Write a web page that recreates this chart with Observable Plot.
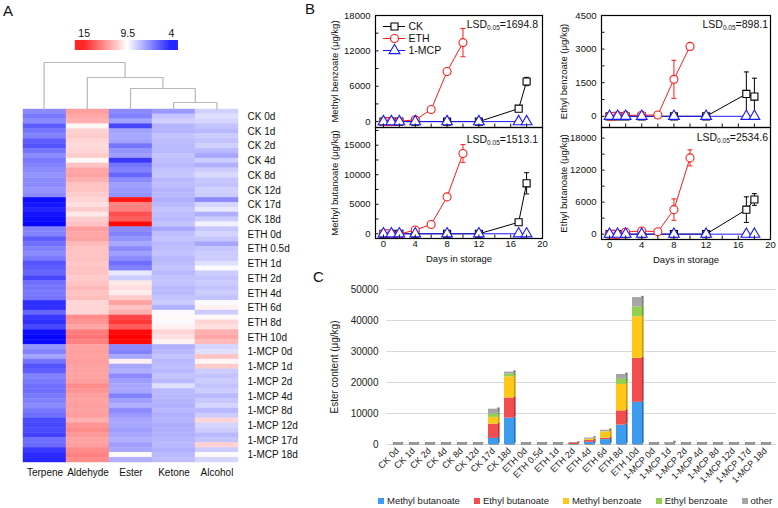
<!DOCTYPE html>
<html><head><meta charset="utf-8">
<script src="https://cdn.jsdelivr.net/npm/d3@7"></script>
<script src="https://cdn.jsdelivr.net/npm/@observablehq/plot@0.6"></script>
<style>
body{margin:0;background:#fff;font-family:"Liberation Sans",Arial,Helvetica,sans-serif;}
#root{position:relative;width:778px;height:508px;overflow:hidden;background:#fff;}
.letter{position:absolute;font-size:15px;color:#111;}
.lsd{position:absolute;font-size:10.5px;white-space:nowrap;transform:translateX(-100%);color:#111;}
.lsd sub{font-size:6.5px;vertical-align:-2px;line-height:0;}
.cleg-swatches{width:400px !important;flex-wrap:nowrap !important;white-space:nowrap;margin:0 !important;min-height:0 !important;}
.cleg-swatch{margin-right:14px !important;}
.cleg-swatch svg{margin-right:3px !important;}
</style></head><body><div id="root"></div><script>
const FONT = '"Liberation Sans", Arial, Helvetica, sans-serif';

// ---------- Panel A data ----------
const heatColumns = ["Terpene","Aldehyde","Ester","Ketone","Alcohol"];
const sampleLabels = ["CK 0d","CK 1d","CK 2d","CK 4d","CK 8d","CK 12d","CK 17d","CK 18d",
  "ETH 0d","ETH 0.5d","ETH 1d","ETH 2d","ETH 4d","ETH 6d","ETH 8d","ETH 10d",
  "1-MCP 0d","1-MCP 1d","1-MCP 2d","1-MCP 4d","1-MCP 8d","1-MCP 12d","1-MCP 17d","1-MCP 18d"];
const terpene = [7.0,6.6,7.0, 6.0,6.5,6.8, 6.0,5.8,6.5, 7.0,6.6,6.8, 7.0,7.2,7.0, 7.0,7.2,7.0,
  4.3,4.5,4.8, 4.4,4.3,4.1, 6.8,6.8,6.0, 6.4,6.8,7.0, 6.6,5.8,6.0, 6.2,5.5,6.4,
  6.5,6.6,6.5, 5.0,5.0,6.2, 5.2,5.0,5.5, 4.3,4.1,4.2, 7.2,6.8,7.5, 6.5,5.8,6.0,
  6.8,6.6,6.4, 6.4,6.6,6.8, 7.0,6.6,6.4, 5.6,5.5,5.6, 5.4,6.4,6.3, 5.2,4.9,4.8];
const aldehyde = [11.6,11.4,11.2, 9.7,10.5,10.6, 10.4,10.3,10.4, 10.6,9.6,10.8, 11.4,11.5,11.2, 10.8,10.8,10.6,
  10.4,10.2,10.6, 10.0,10.6,10.8, 11.6,11.4,11.5, 11.0,10.8,10.8, 10.8,10.7,10.8, 10.8,10.6,10.8,
  11.0,10.8,10.9, 10.4,10.4,10.4, 12.0,11.8,11.4, 12.3,12.5,12.2, 11.5,11.6,11.5, 11.6,11.5,11.5,
  11.5,11.6,12.0, 11.8,11.6,11.5, 11.6,11.5,11.6, 11.2,11.8,12.0, 11.7,11.5,11.6, 12.0,12.2,12.0];
const ester = [7.0,6.8,7.5, 5.5,7.5,7.6, 7.5,6.5,7.2, 7.4,5.2,6.5, 6.8,6.2,7.0, 7.4,7.3,7.2,
  14.5,12.2,12.3, 13.3,13.0,14.8, 7.0,6.8,7.2, 7.6,7.0,7.4, 7.0,6.4,6.8, 9.0,8.4,10.0,
  10.2,9.9,10.6, 11.5,10.8,11.2, 13.5,13.8,13.0, 14.8,15.0,14.8, 7.0,6.8,7.6, 9.8,7.6,7.8,
  7.0,7.4,7.6, 7.6,6.8,7.4, 7.8,7.0,7.3, 7.6,7.6,7.4, 7.6,7.8,7.4, 7.6,9.6,7.8];
const ketone = [7.3,8.2,8.5, 7.9,7.9,8.2, 8.1,8.0,8.0, 8.2,8.1,8.0, 8.2,8.3,8.0, 8.1,7.9,8.0,
  7.8,8.0,8.2, 8.1,8.0,8.2, 7.6,8.1,8.2, 8.0,8.1,8.2, 8.0,8.1,8.2, 8.0,8.2,8.2,
  8.0,8.0,8.2, 8.4,7.8,9.4, 9.6,9.4,9.8, 10.4,10.2,9.8, 7.8,8.0,8.2, 8.0,8.1,8.0,
  8.2,8.0,8.8, 8.0,8.0,7.9, 7.8,8.0,7.8, 7.9,7.7,7.8, 7.8,7.9,8.0, 7.8,8.0,8.1];
const alcohol = [8.5,8.8,8.6, 8.2,8.0,8.4, 8.2,8.5,8.0, 7.6,8.4,7.8, 8.4,8.7,8.3, 8.2,8.5,8.4,
  7.0,8.6,9.0, 7.8,8.4,9.2, 8.3,8.6,8.3, 7.6,8.3,8.4, 8.4,8.8,9.4, 8.4,8.2,8.4,
  8.2,8.4,8.2, 9.4,9.8,8.4, 9.6,10.4,10.2, 11.2,11.4,11.0, 8.6,8.8,10.8, 9.7,10.6,8.4,
  8.2,8.4,8.2, 8.4,8.0,8.3, 8.6,8.0,8.4, 10.4,8.6,8.4, 8.0,8.2,10.5, 8.4,9.6,8.6];
const heatLegendTicks = [15, 9.5, 4];
// dendrogram: nodes 0-4 are leaves (heatColumns order), merges create nodes 5..8
const dendroA = [3, 2, 1, 0];
const dendroB = [4, 5, 6, 7];
const dendroHeight = [0.7, 2.1, 3.2, 4.7];

// ---------- Panel B data ----------
const seriesNames = ["CK","ETH","1-MCP"];
const seriesColors = ["#000000","#ff1a1a","#1a1aff"];
const ckDays = [0,1,2,4,8,12,17,18];
const ethDays = [0,0.5,1,2,4,6,8,10];
const mcpDays = [0,1,2,4,8,12,17,18];
const dayTicks = [0,4,8,12,16,20];
const dayMinor = [0,2,4,6,8,10,12,14,16,18,20];
const mbzCK = [0,0,0,0,0,0,2200,6800],      mbzCKerr = [0,0,0,0,0,0,250,700];
const mbzETH = [0,0,0,50,300,2050,8500,13400], mbzETHerr = [0,0,0,100,150,300,350,2400];
const mbzMCP = [0,0,0,0,0,0,0,0],           mbzMCPerr = [0,0,0,0,0,0,0,0];
const ebzCK = [0,0,0,0,0,0,1000,880],       ebzCKerr = [0,0,0,0,0,0,980,820];
const ebzETH = [0,0,30,40,50,60,1650,3120], ebzETHerr = [0,0,80,60,50,70,850,150];
const ebzMCP = [0,0,0,0,0,0,0,0],           ebzMCPerr = [0,0,0,0,0,0,0,0];
const mbuCK = [0,0,0,0,0,0,1950,8550],      mbuCKerr = [0,0,0,0,0,0,200,1800];
const mbuETH = [0,0,-50,-80,650,1570,6250,13600], mbuETHerr = [0,0,150,550,250,300,300,1500];
const mbuMCP = [0,0,0,0,0,0,0,0],           mbuMCPerr = [0,0,0,0,0,0,0,0];
const ebuCK = [0,0,0,0,0,0,4600,6500],      ebuCKerr = [0,0,0,0,0,0,2400,1100];
const ebuETH = [0,0,-100,400,600,450,4600,14300], ebuETHerr = [0,0,400,300,350,200,2000,1500];
const ebuMCP = [0,0,0,0,0,0,0,0],           ebuMCPerr = [0,0,0,0,0,0,0,0];
const lsdValues = ["1694.8","898.1","1513.1","2534.6"];

// ---------- Panel C data ----------
const cCats = ["CK 0d","CK 1d","CK 2d","CK 4d","CK 8d","CK 12d","CK 17d","CK 18d",
  "ETH 0d","ETH 0.5d","ETH 1d","ETH 2d","ETH 4d","ETH 6d","ETH 8d","ETH 10d",
  "1-MCP 0d","1-MCP 1d","1-MCP 2d","1-MCP 4d","1-MCP 8d","1-MCP 12d","1-MCP 17d","1-MCP 18d"];
const cSeries = ["Methyl butanoate","Ethyl butanoate","Methyl benzoate","Ethyl benzoate","other"];
const cColors = ["#3d9cf0","#f24e52","#ffc819","#92d050","#a6a6a6"];
const cSide   = ["#2470b8","#b83434","#c8990f","#699a36","#7a7a7a"];
const methylButanoate = [40,40,40,40,40,40,1950,8500, 30,30,30,40,700,1570,6250,13600, 30,80,40,40,40,40,40,40];
const ethylButanoate  = [30,30,30,30,30,30,4600,6500, 30,30,30,350,600,450,4600,14200, 30,60,30,30,30,30,30,30];
const methylBenzoate  = [10,10,10,10,10,10,2200,6800, 10,10,10,10,340,2050,8500,13400, 10,10,10,10,10,10,10,10];
const ethylBenzoate   = [10,10,10,10,10,10,1000,880, 10,10,30,40,50,60,1650,3120, 10,10,10,10,10,10,10,10];
const otherEsters     = [60,60,60,60,60,60,1650,680, 60,60,60,60,420,470,1600,3080, 60,500,60,60,60,60,60,60];
const cTicks = [0,10000,20000,30000,40000,50000];

// ---------- helpers ----------
const root = document.getElementById("root");
function place(el, left, top) {
  el.style.position = "absolute"; el.style.left = left + "px"; el.style.top = top + "px";
  root.appendChild(el); return el;
}
function letter(t, left, top) {
  const d = document.createElement("div"); d.className = "letter"; d.textContent = t;
  d.style.left = left + "px"; d.style.top = top + "px"; root.appendChild(d);
}
const baseStyle = {fontFamily: FONT, background: "transparent", overflow: "visible", color: "#111"};
const heatScale = {type: "linear", domain: [4, 9.5, 15], range: ["#0000ff", "#ffffff", "#ff0000"], clamp: true};

// ---------- Panel A ----------
letter("A", 3, 2);
const heatCols = [terpene, aldehyde, ester, ketone, alcohol];
const rowIndex = d3.range(terpene.length);
const heatData = [];
heatColumns.forEach((c, j) => heatCols[j].forEach((v, r) => heatData.push({col: c, row: r, v})));
const labelRows = sampleLabels.map((_, g) => g * 3 + 1);

place(Plot.plot({
  width: 300, height: 508, marginLeft: 22, marginRight: 62, marginTop: 109, marginBottom: 46,
  style: {...baseStyle, fontSize: "10px"},
  x: {domain: heatColumns, padding: 0},
  y: {domain: rowIndex, padding: 0},
  color: heatScale,
  marks: [
    Plot.cell(heatData, {x: "col", y: "row", fill: "v", stroke: "v", strokeWidth: 0.4, inset: 0}),
    Plot.axisY({anchor: "right", ticks: labelRows, tickFormat: i => sampleLabels[(i - 1) / 3], tickSize: 0, tickPadding: 9, label: null}),
    Plot.axisX({anchor: "bottom", tickSize: 0, tickPadding: 6, label: null})
  ]
}), 0, 0);

// dendrogram
const nodePos = heatColumns.map((_, i) => i + 0.5);
const nodeH = heatColumns.map(() => 0);
const dendroLines = [];
dendroA.forEach((a, m) => {
  const b = dendroB[m], h = dendroHeight[m];
  dendroLines.push({m, x: nodePos[a], y: nodeH[a]}, {m, x: nodePos[a], y: h}, {m, x: nodePos[b], y: h}, {m, x: nodePos[b], y: nodeH[b]});
  nodePos.push((nodePos[a] + nodePos[b]) / 2); nodeH.push(h);
});
place(Plot.plot({
  width: 300, height: 54, marginLeft: 22, marginRight: 62, marginTop: 0, marginBottom: 0,
  style: baseStyle,
  x: {domain: [0, 5], axis: null}, y: {domain: [0, 5.4], axis: null},
  marks: [Plot.line(dendroLines, {x: "x", y: "y", z: "m", stroke: "#b8b8b8", strokeWidth: 1.2})]
}), 0, 55);

// heat legend
const gradStops = d3.range(3.1, 16.1, 0.05);
place(Plot.plot({
  width: 300, height: 30, marginLeft: 75, marginRight: 122, marginTop: 18, marginBottom: 2,
  style: {...baseStyle, fontSize: "10.5px"},
  x: {domain: [16.1, 3.1]}, y: {domain: [0, 1], axis: null}, color: heatScale,
  marks: [
    Plot.rect(gradStops, {x1: d => d, x2: d => d + 0.07, y1: 0, y2: 1, fill: d => d}),
    Plot.axisX({anchor: "top", ticks: heatLegendTicks, tickSize: 0, tickPadding: 4, tickFormat: d => String(d), label: null})
  ]
}), 0, 22);

// ---------- Panel B ----------
letter("B", 305, 0);
const capSymbol = {draw(ctx, size) { const r = Math.sqrt(size / Math.PI); ctx.moveTo(-r, 0); ctx.lineTo(r, 0); }};
function linePanel(cfg) {
  const rows = [];
  const add = (s, days, v, e) => days.forEach((d, i) => rows.push({series: s, day: d, value: v[i], err: e[i]}));
  add("CK", ckDays, cfg.ck, cfg.ckErr);
  add("ETH", ethDays, cfg.eth, cfg.ethErr);
  add("1-MCP", mcpDays, cfg.mcp, cfg.mcpErr);
  const errRows = rows.filter(r => r.err > 0);
  return Plot.plot({
    width: cfg.width, height: cfg.height, marginLeft: cfg.ml, marginRight: 3, marginTop: cfg.mt, marginBottom: cfg.mb,
    style: {...baseStyle, fontSize: "9.5px"},
    x: {domain: [-1, 20]},
    y: {domain: cfg.yDomain},
    color: {domain: seriesNames, range: seriesColors},
    symbol: {domain: seriesNames, range: ["square", "circle", "triangle"]},
    marks: [
      Plot.line(rows, {x: "day", y: "value", z: "series", stroke: "series", strokeWidth: 1}),
      Plot.ruleX(errRows, {x: "day", y1: d => d.value - d.err, y2: d => d.value + d.err, stroke: "series", strokeWidth: 1}),
      Plot.dot(errRows, {x: "day", y: d => d.value + d.err, symbol: capSymbol, r: 2.5, stroke: "series", strokeWidth: 1}),
      Plot.dot(errRows, {x: "day", y: d => d.value - d.err, symbol: capSymbol, r: 2.5, stroke: "series", strokeWidth: 1}),
      Plot.dot(rows, {x: "day", y: "value", symbol: "series", stroke: "series", fill: "white", r: 4, strokeWidth: 1.1}),
      Plot.frame({stroke: "#000", strokeWidth: 1.2}),
      Plot.axisY({ticks: cfg.yTicks, tickSize: 0, tickPadding: 5, tickFormat: d => String(d), label: cfg.label, labelAnchor: "center", labelOffset: cfg.lo, labelArrow: "none"}),
      Plot.axisY({ticks: cfg.yMinor, tickSize: 3.5, dx: 3.5, tickFormat: () => "", label: null}),
      Plot.axisX({ticks: dayTicks, tickSize: 0, tickPadding: 2, tickFormat: cfg.showX ? (d => String(d)) : (() => ""),
        label: cfg.showX ? "Days in storage" : null, labelAnchor: "center", labelOffset: 23, labelArrow: "none"}),
      Plot.axisX({ticks: dayMinor, tickSize: 3.5, dy: -3.5, tickFormat: () => "", label: null})
    ]
  });
}
place(linePanel({width: 245, height: 130, ml: 75, mt: 15, mb: 3, yDomain: [-1000, 18000],
  yTicks: [0, 6000, 12000, 18000], yMinor: [0, 3000, 6000, 9000, 12000, 15000, 18000],
  label: "Methyl benzoate (μg/kg)", lo: 44, showX: false,
  ck: mbzCK, ckErr: mbzCKerr, eth: mbzETH, ethErr: mbzETHerr, mcp: mbzMCP, mcpErr: mbzMCPerr}), 300, 0);
place(linePanel({width: 243, height: 130, ml: 71, mt: 15, mb: 3, yDomain: [-500, 4500],
  yTicks: [0, 1500, 3000, 4500], yMinor: [0, 750, 1500, 2250, 3000, 3750, 4500],
  label: "Ethyl benzoate (μg/kg)", lo: 41, showX: false,
  ck: ebzCK, ckErr: ebzCKerr, eth: ebzETH, ethErr: ebzETHerr, mcp: ebzMCP, mcpErr: ebzMCPerr}), 530, 0);
place(linePanel({width: 245, height: 150, ml: 75, mt: 7, mb: 32, yDomain: [-800, 18000],
  yTicks: [0, 5000, 10000, 15000], yMinor: [0, 2500, 5000, 7500, 10000, 12500, 15000, 17500],
  label: "Methyl butanoate (μg/kg)", lo: 44, showX: true,
  ck: mbuCK, ckErr: mbuCKerr, eth: mbuETH, ethErr: mbuETHerr, mcp: mbuMCP, mcpErr: mbuMCPerr}), 300, 120);
place(linePanel({width: 243, height: 150, ml: 71, mt: 7, mb: 31, yDomain: [-1000, 20000],
  yTicks: [0, 6000, 12000, 18000], yMinor: [0, 3000, 6000, 9000, 12000, 15000, 18000],
  label: "Ethyl butanoate (μg/kg)", lo: 41, showX: true,
  ck: ebuCK, ckErr: ebuCKerr, eth: ebuETH, ethErr: ebuETHerr, mcp: ebuMCP, mcpErr: ebuMCPerr}), 530, 120);

// B legend
place(Plot.plot({
  width: 70, height: 40, marginLeft: 0, marginRight: 0, marginTop: 0, marginBottom: 0,
  style: {...baseStyle, fontSize: "10.5px"},
  x: {domain: [0, 70], axis: null},
  y: {type: "point", domain: seriesNames, range: [6, 30.5], padding: 0, axis: null},
  color: {domain: seriesNames, range: seriesColors},
  symbol: {domain: seriesNames, range: ["square", "circle", "triangle"]},
  marks: [
    Plot.ruleY(seriesNames, {y: d => d, x1: 0, x2: 22, stroke: d => d, strokeWidth: 1}),
    Plot.dot(seriesNames, {x: 11, y: d => d, symbol: d => d, stroke: d => d, fill: "white", r: 4, strokeWidth: 1.1}),
    Plot.text(seriesNames, {x: 25, y: d => d, text: d => d, textAnchor: "start", fill: "#111"})
  ]
}), 383, 20);

// LSD annotations
[[538, 18], [768, 18], [538, 133], [768, 131]].forEach(([x, y], i) => {
  const d = document.createElement("div"); d.className = "lsd";
  d.innerHTML = "LSD<sub>0.05</sub>=" + lsdValues[i];
  d.style.left = x + "px"; d.style.top = y + "px"; root.appendChild(d);
});

// ---------- Panel C ----------
letter("C", 313, 268);
const cValues = [methylButanoate, ethylButanoate, methylBenzoate, ethylBenzoate, otherEsters];
const cTidy = [];
const cum = cCats.map(() => 0);
cSeries.forEach((s, k) => cValues[k].forEach((v, i) => {
  cTidy.push({cat: cCats[i], series: s, k, y1: cum[i], y2: cum[i] + v}); cum[i] += v;
}));
const sideMarks = cSeries.map((s, k) => Plot.barY(cTidy.filter(d => d.k === k),
  {x: "cat", y1: "y1", y2: "y2", fill: cSide[k], insetLeft: 9.2, insetRight: -1.6, dy: -1.2}));
place(Plot.plot({
  width: 478, height: 238, marginLeft: 86, marginRight: 2, marginTop: 19, marginBottom: 64,
  style: {...baseStyle, fontSize: "9.5px", color: "#222"},
  x: {domain: cCats, padding: 0.35},
  y: {domain: [0, 50000]},
  color: {domain: cSeries, range: cColors},
  marks: [
    Plot.ruleY(cTicks, {y: d => d, stroke: "#d9d9d9", strokeWidth: 1}),
    Plot.tickY(cCats, {x: d => d, y: 0, stroke: "#9a9a9a", strokeWidth: 3, dx: 1, dy: -1}),
    ...sideMarks,
    Plot.barY(cTidy, {x: "cat", y1: "y1", y2: "y2", fill: "series"}),
    Plot.axisY({ticks: cTicks, tickSize: 0, tickPadding: 8, tickFormat: d => String(d), label: "Ester content (μg/kg)", labelAnchor: "center", labelOffset: 56, labelArrow: "none", fontSize: 10}),
    Plot.axisX({tickSize: 0, tickPadding: 5, tickRotate: -45, label: null, fontSize: 9})
  ]
}), 300, 270);

const cLeg = Plot.legend({color: {domain: cSeries, range: cColors}, swatchSize: 6, swatchWidth: 6, swatchHeight: 6, className: "cleg",
  style: {fontFamily: FONT, fontSize: "9.5px", color: "#222", background: "transparent"}});
cLeg.style.width = "400px";
cLeg.style.flexWrap = "nowrap";
cLeg.style.whiteSpace = "nowrap";
cLeg.style.margin = "0";
place(cLeg, 378, 495);
</script></body></html>
